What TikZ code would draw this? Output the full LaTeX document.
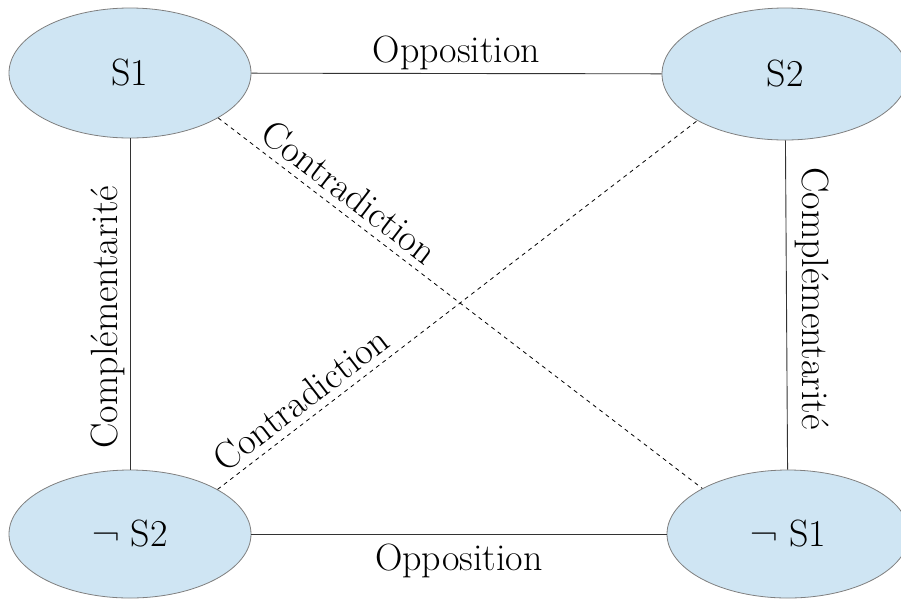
\documentclass[tikz,border=0pt]{standalone}
\usepackage{fontspec}
\usetikzlibrary{shapes.geometric}
\definecolor{ellfill}{HTML}{CFE5F3}
\definecolor{ellline}{HTML}{7F7F7F}
\definecolor{solidline}{HTML}{333333}
\tikzset{
  prop/.style={ellipse, draw=ellline, line width=0.8pt, fill=ellfill,
    minimum width=242pt, minimum height=130pt, inner sep=0pt,
    font=\fontsize{38}{44}\selectfont},
  link/.style={draw=solidline, line width=0.9pt},
  contra/.style={draw=black, line width=0.8pt, dash pattern=on 4pt off 4pt},
  lbl/.style={inner sep=0pt, font=\fontsize{38}{44}\selectfont}
}
\begin{document}
\begin{tikzpicture}[x=1pt,y=-1pt]
\useasboundingbox (0,0) rectangle (901,598);
\node[prop] (s1) at (130,73) {S1};
\node[prop, minimum width=246pt, minimum height=132pt] (s2) at (785,74) {S2};
\node[prop, minimum height=128pt] (ns2) at (130,534) {¬ S2};
\node[prop, minimum height=128pt] (ns1) at (788,534) {¬ S1};

\draw[link] (s1) -- node[lbl, anchor=base, yshift=11pt, pos=0.5] {Opposition} (s2);
\draw[link] (ns2) -- node[lbl, anchor=base, yshift=-36pt, pos=0.5] {Opposition} (ns1);
\draw[link] (s1) -- node[lbl, rotate=90, anchor=base, yshift=13pt, pos=0.54] {Complémentarité} (ns2);
\draw[link] (s2) -- node[lbl, rotate=-90, anchor=base, yshift=16pt, pos=0.48] {Complémentarité} (ns1);

\draw[contra] (s1.-27.6) -- node[lbl, sloped, above=7pt, pos=0.245] {Contradiction} (ns1.152.4);
\draw[contra] (ns2.27.4) -- node[lbl, sloped, above=7pt, pos=0.2] {Contradiction} (s2.208.6);
\end{tikzpicture}
\end{document}
